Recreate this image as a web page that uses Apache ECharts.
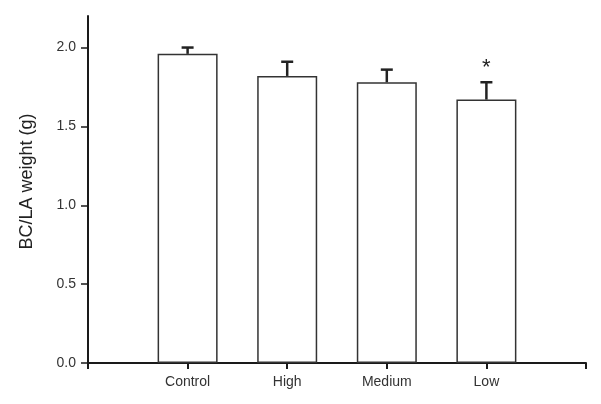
<!DOCTYPE html>
<html>
<head>
<meta charset="utf-8">
<script src="https://cdn.jsdelivr.net/npm/echarts@6/dist/echarts.min.js"></script>
<style>
  html, body { margin: 0; padding: 0; background: #fff; }
  #main { width: 601px; height: 404px; }
</style>
</head>
<body>
<div id="main"></div>
<script>
// groups along the x axis
var categories = ['Control', 'High', 'Medium', 'Low'];
// mean BC/LA weight (g)
var means = [1.96, 1.82, 1.78, 1.67];
// upper error (g)
var errors = [0.04, 0.09, 0.08, 0.11];
// significance marks
var marks = ['', '', '', '*'];
var yTicks = [0, 0.5, 1.0, 1.5, 2.0];

var chart = echarts.init(document.getElementById('main'));

var barData = means.map(function (v, i) { return [i + 1, v]; });
var errData = means.map(function (v, i) { return [i + 1, v, v + errors[i]]; });

var fontFamily = 'Liberation Sans, Arial, sans-serif';

chart.setOption({
    animation: false,
    grid: { left: 88, right: 15, top: 16, bottom: 41 },
    xAxis: {
        type: 'value',
        min: 0,
        max: 5,
        interval: 1,
        splitLine: { show: false },
        axisLine: { lineStyle: { color: '#1a1a1a', width: 2 } },
        axisTick: { length: 6, lineStyle: { color: '#1a1a1a', width: 2 } },
        axisLabel: {
            margin: 12,
            color: '#333',
            fontSize: 14,
            fontFamily: fontFamily,
            formatter: function (v) { return categories[v - 1] || ''; }
        }
    },
    yAxis: {
        type: 'value',
        min: 0,
        max: 2.2,
        name: 'BC/LA weight (g)',
        nameLocation: 'middle',
        nameGap: 52,
        nameTextStyle: { color: '#222', fontSize: 18, fontFamily: fontFamily, padding: [0, 0, 0, 16] },
        splitLine: { show: false },
        axisLine: { show: true, lineStyle: { color: '#1a1a1a', width: 2 } },
        axisTick: { show: true, length: 7, customValues: yTicks, lineStyle: { color: '#1a1a1a', width: 1.5 } },
        axisLabel: {
            margin: 12,
            color: '#333',
            fontSize: 14,
            fontFamily: fontFamily,
            customValues: yTicks,
            formatter: function (v) { return v.toFixed(1); }
        }
    },
    series: [
        {
            type: 'bar',
            data: barData,
            barWidth: 60,
            itemStyle: { color: '#fff', borderColor: '#333', borderWidth: 1.5 },
            z: 2
        },
        {
            type: 'custom',
            data: errData,
            z: 3,
            renderItem: function (params, api) {
                var base = api.coord([api.value(0), api.value(1)]);
                var top = api.coord([api.value(0), api.value(2)]);
                var mark = marks[params.dataIndex];
                var children = [
                    { type: 'line', shape: { x1: base[0], y1: base[1], x2: top[0], y2: top[1] },
                      style: { stroke: '#222', lineWidth: 2.5 } },
                    { type: 'line', shape: { x1: top[0] - 6, y1: top[1], x2: top[0] + 6, y2: top[1] },
                      style: { stroke: '#222', lineWidth: 2.5 } }
                ];
                if (mark) {
                    children.push({
                        type: 'text',
                        style: {
                            text: mark, x: top[0], y: top[1] - 14,
                            align: 'center', verticalAlign: 'middle',
                            fill: '#222', fontSize: 22, fontFamily: fontFamily
                        }
                    });
                }
                return { type: 'group', children: children };
            }
        }
    ]
});
</script>
</body>
</html>
